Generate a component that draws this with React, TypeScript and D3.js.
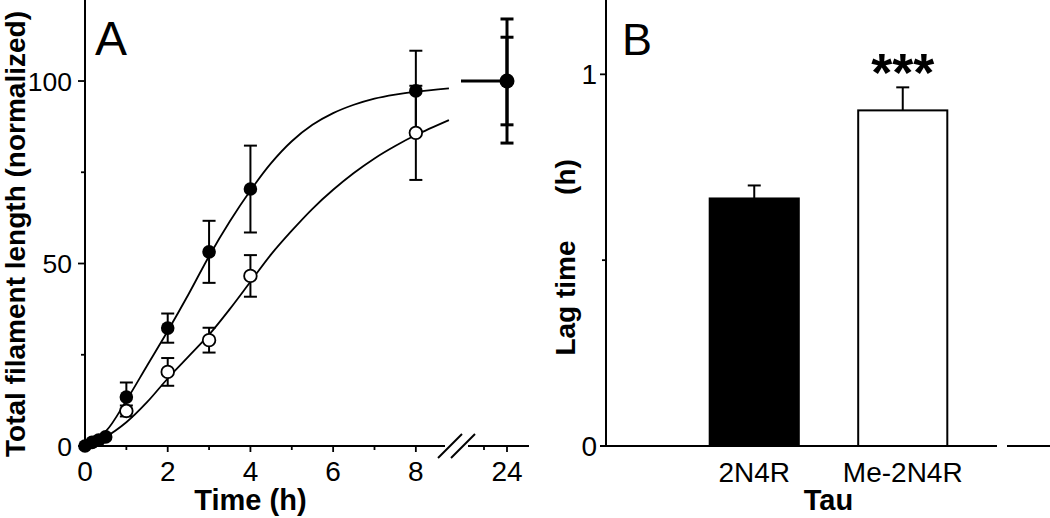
import * as React from "react";
import * as d3 from "d3";

// ---- panel A data ----
const filledTimes = [0, 0.17, 0.33, 0.5, 1, 2, 3, 4, 8];
const filledValues = [0, 1, 1.6, 2.5, 13.4, 32.3, 53.2, 70.4, 97.3];
const filledErr = [0, 0, 0, 0, 4, 4, 8.5, 11.9, 11];

const openTimes = [1, 2, 3, 4, 8];
const openValues = [9.6, 20.3, 29, 46.6, 85.8];
const openErr = [1.5, 3.8, 3.4, 5.7, 12.9];

// fitted curves
const fitTimesFilled = [0, 0.5, 1, 1.5, 2, 2.5, 3, 3.5, 4, 4.5, 5, 5.5, 6, 6.5, 7, 7.5, 8, 8.8];
const fitFilled = [0, 4, 12.5, 22, 31.5, 41.5, 52, 61.5, 70, 77.5, 83.5, 88, 91.2, 93.5, 95.2, 96.3, 97.1, 98];
const fitTimesOpen = [0, 0.5, 1, 1.5, 2, 2.5, 3, 3.5, 4, 4.5, 5, 5.5, 6, 6.5, 7, 7.5, 8, 8.8];
const fitOpen = [0, 2.5, 6.5, 12, 18.5, 24.5, 30.5, 37.5, 45, 52.5, 59, 65, 70.2, 74.8, 78.8, 82.2, 85.2, 89.3];

// 24 h point (after the axis break)
const lateTime = 24;
const lateValue = 100;
const lateErrOuter = 17;
const lateErrInner = 12;
const plateauStart = 22;

const ticksA1 = [0, 1, 2, 3, 4, 5, 6, 7, 8];
const ticksA2 = [23, 24];
const ticksAY = [0, 25, 50, 75, 100];

// ---- panel B data ----
const tauLabels = ["2N4R", "Me-2N4R"];
const lagValues = [0.666, 0.903];
const lagErr = [0.035, 0.062];
const barFills = ["#000", "#fff"];
const ticksBY = [0, 0.5, 1];

const FONT = "'Liberation Sans', Arial, Helvetica, sans-serif";

export default function App() {
  // panel A scales
  const yA = d3.scaleLinear().domain([0, 122.2]).range([446, 0]);
  const xA1 = d3.scaleLinear().domain([0, 8.85]).range([85, 451]);
  const xA2 = d3.scaleLinear().domain([22, 25]).range([461, 530]);

  // panel B scales
  const yB = d3.scaleLinear().domain([0, 1.2]).range([446, 0]);
  const xB = d3.scaleBand<string>().domain(tauLabels).range([680, 977]).paddingInner(0.4).paddingOuter(0.2);

  const line = d3
    .line<[number, number]>()
    .x((d) => xA1(d[0]))
    .y((d) => yA(d[1]))
    .curve(d3.curveCatmullRom.alpha(0.5));

  const filledPath = line(fitTimesFilled.map((t, i) => [t, fitFilled[i]])) ?? "";
  const openPath = line(fitTimesOpen.map((t, i) => [t, fitOpen[i]])) ?? "";

  const cap = 6.5;

  const errBar = (x: number, v: number, e: number, key: string, w = 2) => (
    <g key={key} stroke="#000" strokeWidth={w}>
      <line x1={x} x2={x} y1={yA(v - e)} y2={yA(v + e)} />
      <line x1={x - cap} x2={x + cap} y1={yA(v + e)} y2={yA(v + e)} />
      <line x1={x - cap} x2={x + cap} y1={yA(v - e)} y2={yA(v - e)} />
    </g>
  );

  const axisY = yA(0);
  const xEnd1 = xA1.range()[1] - 6;
  const xStart2 = xA2.range()[0] + 7;

  return (
    <div style={{ position: "absolute", left: 0, top: 0 }}>
      <svg width={1050} height={518} style={{ display: "block", fontFamily: FONT }}>
        <rect width={1050} height={518} fill="#fff" />

        {/* ================= Panel A ================= */}
        <g>
          {/* y axis */}
          <line x1={85} x2={85} y1={0} y2={axisY} stroke="#000" strokeWidth={2} />
          {ticksAY.map((t) => (
            <g key={"ay" + t}>
              <line x1={t % 50 === 0 ? 78 : 81} x2={85} y1={yA(t)} y2={yA(t)} stroke="#000" strokeWidth={1.8} />
              {t % 50 === 0 && (
                <text x={72} y={yA(t)} dy="0.36em" textAnchor="end" fontSize={26.5}>
                  {t}
                </text>
              )}
            </g>
          ))}

          {/* x axis, two segments with a break */}
          <line x1={84} x2={xEnd1} y1={axisY} y2={axisY} stroke="#000" strokeWidth={2} />
          <line x1={xStart2} x2={xA2.range()[1] - 1} y1={axisY} y2={axisY} stroke="#000" strokeWidth={2} />
          {[xEnd1 + 5, xStart2 - 5].map((cx, i) => (
            <line key={"brk" + i} x1={cx - 12} x2={cx + 12} y1={axisY + 12} y2={axisY - 12} stroke="#000" strokeWidth={2} />
          ))}
          {ticksA1.map((t) => (
            <g key={"ax" + t}>
              <line x1={xA1(t)} x2={xA1(t)} y1={axisY} y2={axisY + (t % 2 === 0 ? 6 : 4)} stroke="#000" strokeWidth={1.8} />
              {t % 2 === 0 && (
                <text x={xA1(t)} y={481} textAnchor="middle" fontSize={28}>
                  {t}
                </text>
              )}
            </g>
          ))}
          {ticksA2.map((t) => (
            <g key={"ax2" + t}>
              <line x1={xA2(t)} x2={xA2(t)} y1={axisY} y2={axisY + (t % 2 === 0 ? 6 : 4)} stroke="#000" strokeWidth={1.8} />
              {t % 2 === 0 && (
                <text x={xA2(t)} y={481} textAnchor="middle" fontSize={28}>
                  {t}
                </text>
              )}
            </g>
          ))}

          {/* fitted curves */}
          <path d={filledPath} fill="none" stroke="#000" strokeWidth={1.8} />
          <path d={openPath} fill="none" stroke="#000" strokeWidth={1.8} />

          {/* error bars */}
          {filledTimes.map((t, i) => (filledErr[i] > 0 ? errBar(xA1(t), filledValues[i], filledErr[i], "fe" + i) : null))}
          {openTimes.map((t, i) => errBar(xA1(t), openValues[i], openErr[i], "oe" + i))}

          {/* points */}
          {openTimes.map((t, i) => (
            <circle key={"op" + i} cx={xA1(t)} cy={yA(openValues[i])} r={6.3} fill="#fff" stroke="#000" strokeWidth={1.8} />
          ))}
          {filledTimes.map((t, i) => (
            <circle key={"fp" + i} cx={xA1(t)} cy={yA(filledValues[i])} r={6.8} fill="#000" />
          ))}

          {/* 24 h */}
          <line x1={xA2(plateauStart)} x2={xA2(lateTime)} y1={yA(lateValue)} y2={yA(lateValue)} stroke="#000" strokeWidth={3} />
          {errBar(xA2(lateTime), lateValue, lateErrOuter, "le1", 3)}
          {errBar(xA2(lateTime), lateValue, lateErrInner, "le2", 3)}
          <circle cx={xA2(lateTime)} cy={yA(lateValue)} r={7.5} fill="#000" />

          {/* labels */}
          <text x={95} y={55} fontSize={48}>
            A
          </text>
          <text x={xA1(4)} y={510} textAnchor="middle" fontSize={29} fontWeight="bold">
            Time (h)
          </text>
          <text transform="translate(25,234) rotate(-90)" textAnchor="middle" fontSize={28} fontWeight="bold">
            Total filament length (normalized)
          </text>
        </g>

        {/* ================= Panel B ================= */}
        <g>
          <line x1={606} x2={606} y1={0} y2={yB(0)} stroke="#000" strokeWidth={2} />
          {ticksBY.map((t) => (
            <g key={"by" + t}>
              <line x1={t === 0.5 ? 602 : 600} x2={606} y1={yB(t)} y2={yB(t)} stroke="#000" strokeWidth={1.8} />
              {t !== 0.5 && (
                <text x={597} y={yB(t)} dy="0.36em" textAnchor="end" fontSize={28}>
                  {t}
                </text>
              )}
            </g>
          ))}
          <line x1={600} x2={997} y1={yB(0)} y2={yB(0)} stroke="#000" strokeWidth={2} />
          <line x1={1007} x2={1050} y1={yB(0)} y2={yB(0)} stroke="#000" strokeWidth={2} />

          {tauLabels.map((c, i) => {
            const x0 = xB(c) ?? 0;
            const bw = xB.bandwidth();
            const cx = x0 + bw / 2;
            return (
              <g key={"bar" + c}>
                <line x1={cx} x2={cx} y1={yB(lagValues[i])} y2={yB(lagValues[i] + lagErr[i])} stroke="#000" strokeWidth={2} />
                <line x1={cx - cap} x2={cx + cap} y1={yB(lagValues[i] + lagErr[i])} y2={yB(lagValues[i] + lagErr[i])} stroke="#000" strokeWidth={2} />
                <rect x={x0} y={yB(lagValues[i])} width={bw} height={yB(0) - yB(lagValues[i])} fill={barFills[i]} stroke="#000" strokeWidth={2} />
                <text x={cx} y={482} textAnchor="middle" fontSize={28}>
                  {c}
                </text>
              </g>
            );
          })}

          {/* significance */}
          <text x={(xB(tauLabels[1]) ?? 0) + xB.bandwidth() / 2} y={yB(lagValues[1] + lagErr[1]) + 4} textAnchor="middle" fontSize={54} fontWeight="bold">
            ***
          </text>

          <text x={622} y={55} fontSize={45}>
            B
          </text>
          <text x={(680 + 977) / 2} y={510} textAnchor="middle" fontSize={29} fontWeight="bold">
            Tau
          </text>
          <text transform="translate(575,298) rotate(-90)" textAnchor="middle" fontSize={28} fontWeight="bold">
            Lag time
          </text>
          <text transform="translate(575,177) rotate(-90)" textAnchor="middle" fontSize={28} fontWeight="bold">
            (h)
          </text>
        </g>
      </svg>
    </div>
  );
}
